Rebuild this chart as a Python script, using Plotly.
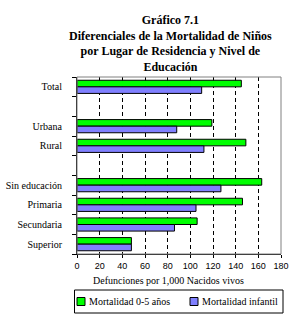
import plotly.graph_objects as go

categories = ["Total", "", "Urbana", "Rural", "", "Sin educación", "Primaria", "Secundaria", "Superior"]
mort_0_5 = [145, None, 119, 149, None, 163, 146, 106, 48]
mort_inf = [110, None, 88, 112, None, 127, 105, 86, 48]
series_names = ["Mortalidad 0-5 años", "Mortalidad infantil"]
series_colors = ["#00FF00", "#8080FF"]
x_ticks = [0, 20, 40, 60, 80, 100, 120, 140, 160, 180]

positions = list(range(len(categories)))
label_pos = [p for p, c in zip(positions, categories) if c]
label_txt = [c for c in categories if c]

serif = "Liberation Serif, Times New Roman, serif"

W, H = 295, 317
ML, MR, MT, MB = 77, 14, 77, 63
PW, PH = W - ML - MR, H - MT - MB


def px(xp):
    return (xp - ML) / PW


def py(yp):
    return (H - MB - yp) / PH


fig = go.Figure()
for vals, name, col in zip([mort_0_5, mort_inf], series_names, series_colors):
    fig.add_trace(go.Bar(
        y=positions, x=vals, orientation="h", name=name,
        marker=dict(color=col, line=dict(color="black", width=1)),
    ))

shapes = [dict(type="rect", xref="paper", yref="paper", x0=0, x1=1, y0=0, y1=1,
               line=dict(color="#808080", width=1), layer="above")]
annotations = [
    dict(text="<b>Gráfico 7.1<br>Diferenciales de la Mortalidad de Niños<br>por Lugar de Residencia y Nivel de<br>Educación</b>",
         xref="paper", yref="paper", x=px(170.5), y=py(11), xanchor="center", yanchor="top",
         showarrow=False, font=dict(family=serif, size=12, color="black")),
    dict(text="Defunciones por 1,000 Nacidos vivos", xref="paper", yref="paper",
         x=px(168.5), y=py(280), xanchor="center", yanchor="middle",
         showarrow=False, font=dict(family=serif, size=10, color="black")),
]

# manual legend box
shapes.append(dict(type="rect", xref="paper", yref="paper",
                   x0=px(74.5), x1=px(283), y0=py(313), y1=py(290),
                   line=dict(color="black", width=1), fillcolor="white", layer="above"))
for i, (name, col) in enumerate(zip(series_names, series_colors)):
    sx = 77 + i * 113
    shapes.append(dict(type="rect", xref="paper", yref="paper",
                       x0=px(sx), x1=px(sx + 8), y0=py(305.5), y1=py(297.5),
                       line=dict(color="black", width=1), fillcolor=col, layer="above"))
    annotations.append(dict(text=name, xref="paper", yref="paper",
                            x=px(sx + 9.5), y=py(301.5), xanchor="left", yanchor="middle",
                            showarrow=False, font=dict(family=serif, size=10, color="black")))

fig.update_layout(
    width=W, height=H,
    margin=dict(l=ML, r=MR, t=MT, b=MB, autoexpand=False),
    paper_bgcolor="white", plot_bgcolor="white",
    barmode="group", bargap=0.33, bargroupgap=0,
    font=dict(family=serif, size=10, color="black"),
    showlegend=False,
    xaxis=dict(
        range=[0, 180], tickvals=x_ticks, ticks="outside", ticklen=3,
        tickcolor="black", showline=True, linecolor="black", linewidth=1,
        showgrid=True, gridcolor="black", gridwidth=1, griddash="4px,3px",
        zeroline=False, tickfont=dict(family="Liberation Sans, Arial, sans-serif", size=9),
        fixedrange=True, automargin=False,
    ),
    yaxis=dict(
        range=[len(categories) - 0.5, -0.5], tickmode="array",
        tickvals=label_pos, ticktext=label_txt, ticks="", showgrid=False,
        showline=True, linecolor="black", linewidth=1, zeroline=False,
        ticklabelstandoff=12, automargin=False,
        minor=dict(tickmode="linear", tick0=0.5, dtick=1, ticks="outside",
                   ticklen=4, tickcolor="black", showgrid=False),
        tickfont=dict(family=serif, size=10),
    ),
    shapes=shapes,
    annotations=annotations,
)

fig.write_html("out.html")
